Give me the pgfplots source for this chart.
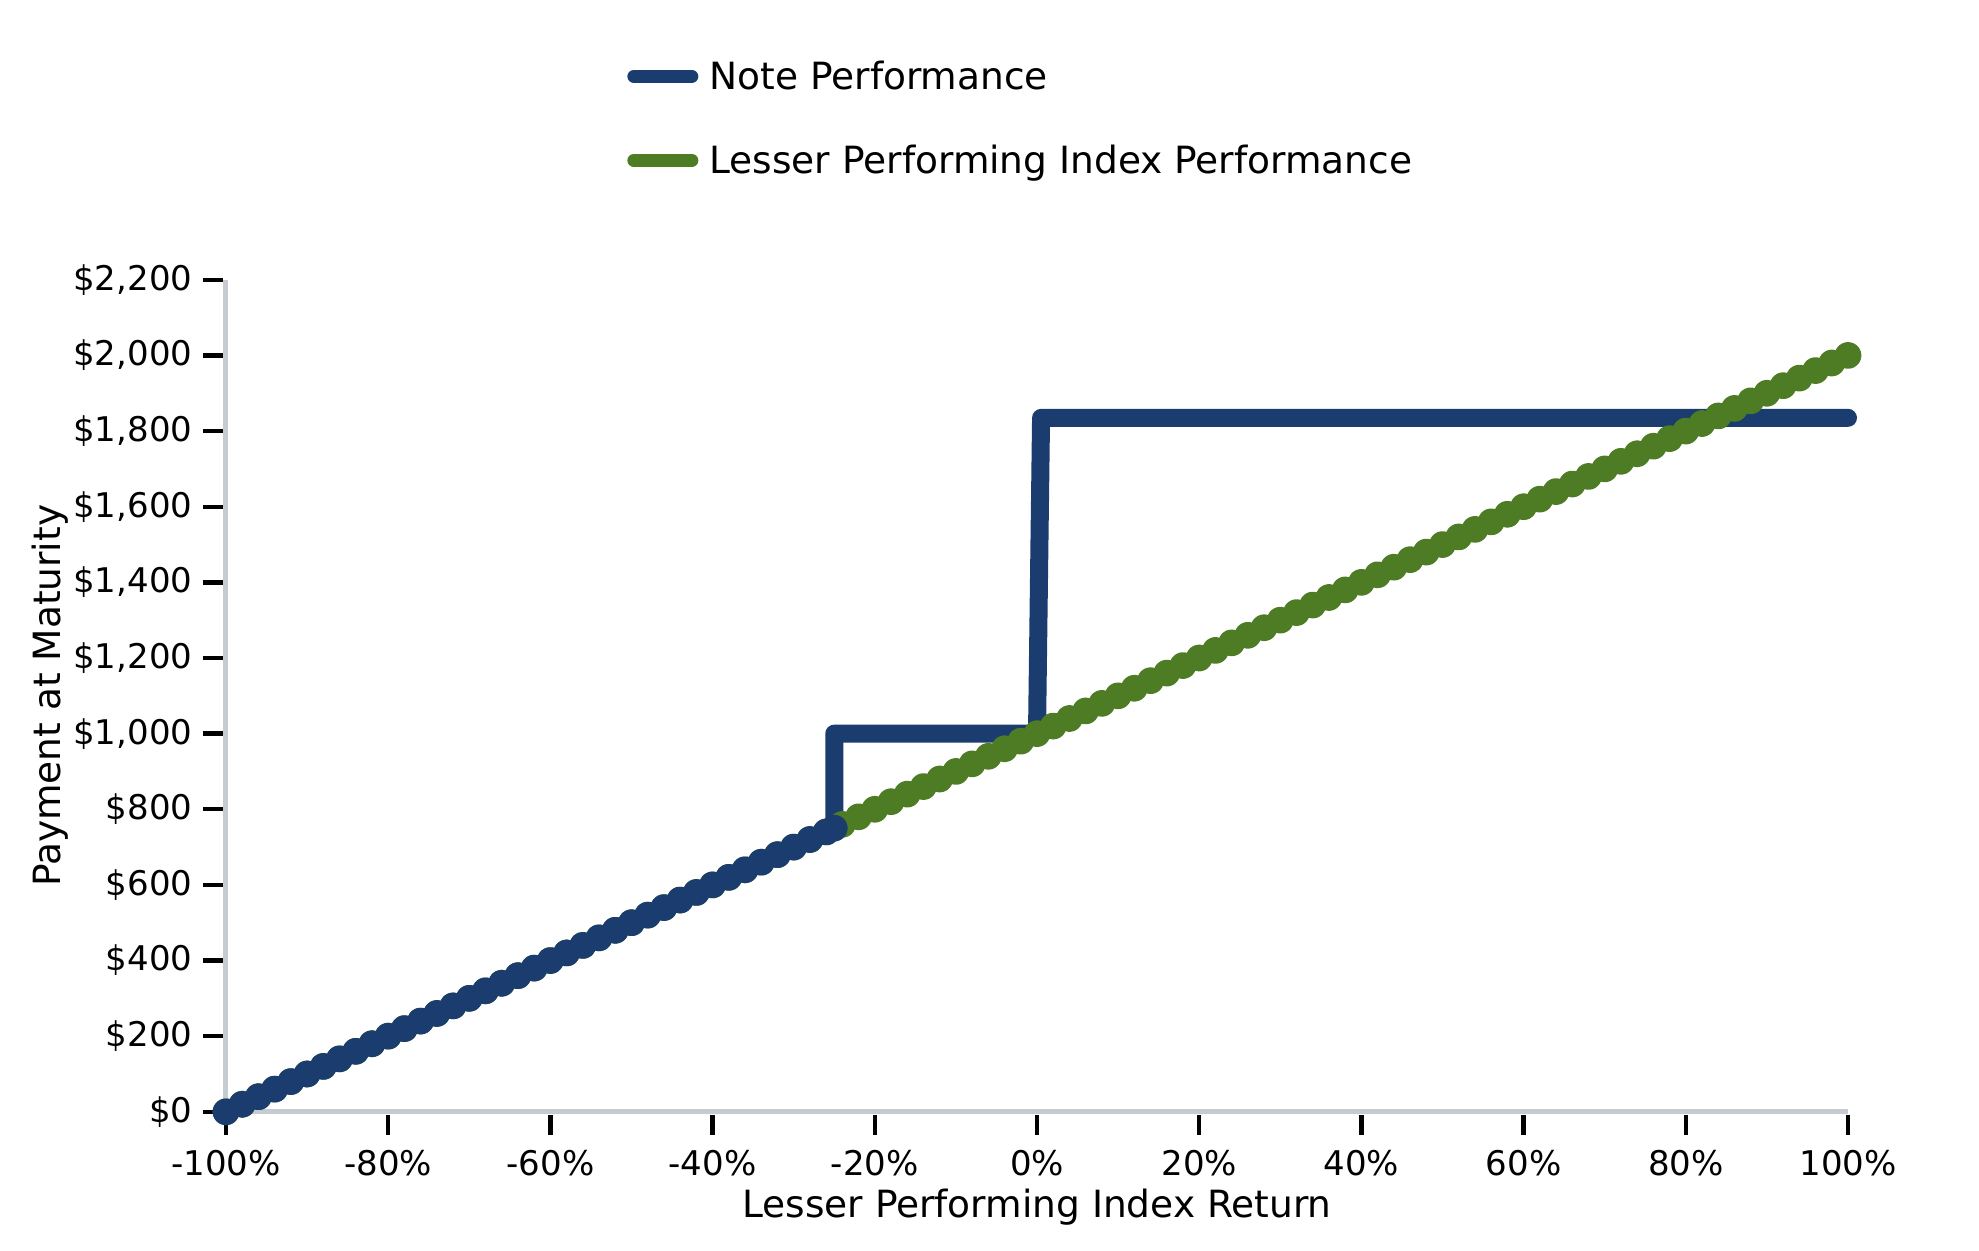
\documentclass[border=0pt]{standalone}
\usepackage{fontspec}
\setmainfont{DejaVu Sans}
\usepackage{pgfplots}
\pgfplotsset{compat=1.18}
\definecolor{noteblue}{RGB}{27,60,110}
\definecolor{idxgreen}{RGB}{77,124,36}
\definecolor{axgray}{RGB}{197,203,209}
\begin{document}
\begin{tikzpicture}
\path[use as bounding box] (-113pt,-69.1pt) rectangle (876.5pt,555.9pt);
\begin{axis}[
  scale only axis, width=811pt, height=416pt,
  xmin=-100, xmax=100, ymin=0, ymax=2200,
  clip=false,
  axis x line*=bottom, axis y line*=left,
  axis line style={draw=axgray, line width=2.5pt, -},
  xtick={-100,-80,...,100},
  xticklabels={-100\%,-80\%,-60\%,-40\%,-20\%,0\%,20\%,40\%,60\%,80\%,100\%},
  ytick={0,200,...,2200},
  yticklabels={\$0,\$200,\$400,\$600,\$800,{\$1,000},{\$1,200},{\$1,400},{\$1,600},{\$1,800},{\$2,000},{\$2,200}},
  tick align=outside, major tick length=10pt,
  tick style={black, line width=2.2pt},
  x tick style={yshift=-1.5pt}, y tick style={xshift=-1.5pt},
  ticklabel style={font=\fontsize{17}{20}\selectfont},
  yticklabel style={xshift=-3.3pt},
  xticklabel style={anchor=base, yshift=-21.7pt},
  xlabel={Lesser Performing Index Return},
  ylabel={Payment at Maturity},
  xlabel style={font=\fontsize{18.75}{22}\selectfont, at={(axis description cs:0.5,-0.1270)}, anchor=base},
  ylabel style={font=\fontsize{18.75}{22}\selectfont, at={(axis description cs:-0.1021,0.5)}, anchor=base, rotate=0},
  legend style={draw=none, fill=none, at={(axis description cs:0.2472,1.194)}, anchor=west,
    font=\fontsize{18.75}{22}\selectfont, row sep=22.3pt, column sep=3.6pt, inner xsep=0pt},
  legend cell align=left,
  reverse legend,
  legend image code/.code={\draw[#1, line width=6.5pt, line cap=round] (3pt,0pt) -- (32pt,0pt);},
]
\addplot[idxgreen, line width=6.5pt, line join=round, line cap=round, mark=*, mark size=3.45pt, mark options={draw=none, fill=idxgreen}] coordinates {
(-100,0) (-98,20) (-96,40) (-94,60) (-92,80) (-90,100) (-88,120) (-86,140) (-84,160) (-82,180)
(-80,200) (-78,220) (-76,240) (-74,260) (-72,280) (-70,300) (-68,320) (-66,340) (-64,360) (-62,380)
(-60,400) (-58,420) (-56,440) (-54,460) (-52,480) (-50,500) (-48,520) (-46,540) (-44,560) (-42,580)
(-40,600) (-38,620) (-36,640) (-34,660) (-32,680) (-30,700) (-28,720) (-26,740) (-24,760) (-22,780)
(-20,800) (-18,820) (-16,840) (-14,860) (-12,880) (-10,900) (-8,920) (-6,940) (-4,960) (-2,980)
(0,1000) (2,1020) (4,1040) (6,1060) (8,1080) (10,1100) (12,1120) (14,1140) (16,1160) (18,1180)
(20,1200) (22,1220) (24,1240) (26,1260) (28,1280) (30,1300) (32,1320) (34,1340) (36,1360) (38,1380)
(40,1400) (42,1420) (44,1440) (46,1460) (48,1480) (50,1500) (52,1520) (54,1540) (56,1560) (58,1580)
(60,1600) (62,1620) (64,1640) (66,1660) (68,1680) (70,1700) (72,1720) (74,1740) (76,1760) (78,1780)
(80,1800) (82,1820) (84,1840) (86,1860) (88,1880) (90,1900) (92,1920) (94,1940) (96,1960) (98,1980)
(100,2000)
};
\addlegendentry{Lesser Performing Index Performance}
\addplot[noteblue, line width=6.5pt, line join=round, line cap=round, mark=*, mark size=3.45pt, mark options={draw=none, fill=noteblue}] coordinates {
(-100,0) (-98,20) (-96,40) (-94,60) (-92,80) (-90,100) (-88,120) (-86,140) (-84,160) (-82,180)
(-80,200) (-78,220) (-76,240) (-74,260) (-72,280) (-70,300) (-68,320) (-66,340) (-64,360) (-62,380)
(-60,400) (-58,420) (-56,440) (-54,460) (-52,480) (-50,500) (-48,520) (-46,540) (-44,560) (-42,580)
(-40,600) (-38,620) (-36,640) (-34,660) (-32,680) (-30,700) (-28,720) (-26,740) (-25,750)
};
\addlegendentry{Note Performance}
\addplot[forget plot, noteblue, line width=9pt, line join=round, line cap=round, mark=none] coordinates {
(-25,750) (-25,1000) (0,1000) (0.5,1835) (100,1835)
};
\end{axis}
\end{tikzpicture}
\end{document}
